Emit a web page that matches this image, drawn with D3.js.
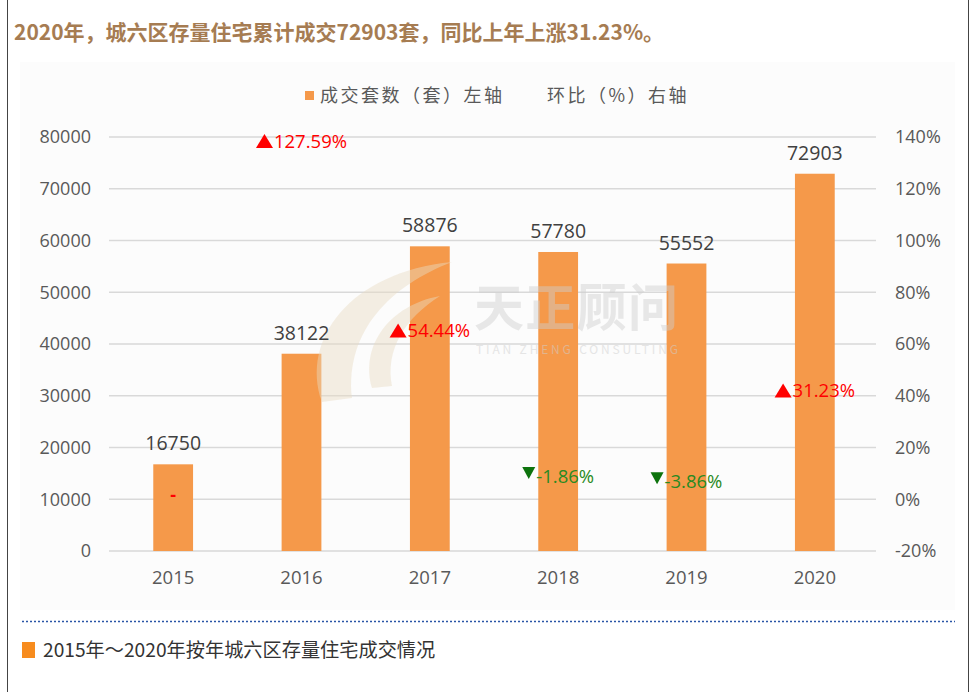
<!DOCTYPE html>
<html><head><meta charset="utf-8">
<script src="https://cdn.jsdelivr.net/npm/d3@7/dist/d3.min.js"></script>
<style>
html,body{margin:0;padding:0;background:#fff;}
svg{display:block;font-family:"Noto Sans CJK SC","Open Sans","DejaVu Sans",sans-serif;}
</style></head>
<body>
<svg id="c" width="973" height="692"></svg>
<script>
const years = ["2015","2016","2017","2018","2019","2020"];
const deals = [16750, 38122, 58876, 57780, 55552, 72903];
const ratios = [null, 127.59, 54.44, -1.86, -3.86, 31.23];
const leftTicks = [0,10000,20000,30000,40000,50000,60000,70000,80000];
const rightTicks = [-20,0,20,40,60,80,100,120,140];
const titleText = "2020年，城六区存量住宅累计成交72903套，同比上年上涨31.23%。";
const legendLabels = ["成交套数（套）左轴", "环比（%）右轴"];
const captionText = "2015年～2020年按年城六区存量住宅成交情况";

const svg = d3.select("#c");
const barColor = "#F5994A";
const textGray = "#595959";
const numFont = "'Open Sans',sans-serif";

// frame lines
svg.append("line").attr("x1",7.5).attr("x2",7.5).attr("y1",0).attr("y2",692).attr("stroke","#444").attr("stroke-width",1);
svg.append("line").attr("x1",968.5).attr("x2",968.5).attr("y1",0).attr("y2",692).attr("stroke","#444").attr("stroke-width",1);

// chart background
svg.append("rect").attr("x",20).attr("y",62).attr("width",935).attr("height",548).attr("fill","#fcfcfc");

// title
svg.append("text").attr("x",14).attr("y",40).attr("font-size",21).attr("font-weight","bold")
  .attr("fill","#A67C52").text(titleText);

// scales
const x = d3.scaleBand().domain(years).range([109,879]).paddingInner(0.69).paddingOuter(0.345);
const yL = d3.scaleLinear().domain([0,80000]).range([551,137]);
const yR = d3.scaleLinear().domain([-20,140]).range([551,137]);

// gridlines
svg.append("g").selectAll("line").data(leftTicks).join("line")
  .attr("x1",109).attr("x2",876).attr("y1",d=>yL(d)).attr("y2",d=>yL(d))
  .attr("stroke","#d9d9d9").attr("stroke-width",1.5);

// left axis labels
svg.append("g").selectAll("text").data(leftTicks).join("text")
  .attr("x",91).attr("y",d=>yL(d)).attr("dy","0.35em").attr("text-anchor","end")
  .attr("font-size",18).attr("fill",textGray).attr("font-family",numFont).text(d=>d);

// right axis labels
svg.append("g").selectAll("text").data(rightTicks).join("text")
  .attr("x",895).attr("y",d=>yR(d)).attr("dy","0.35em").attr("text-anchor","start")
  .attr("font-size",18).attr("fill",textGray).attr("font-family",numFont).text(d=>d+"%");

// x labels
svg.append("g").selectAll("text").data(years).join("text")
  .attr("x",d=>x(d)+x.bandwidth()/2).attr("y",578).attr("dy","0.35em").attr("text-anchor","middle")
  .attr("font-size",18.5).attr("fill",textGray).attr("font-family",numFont).text(d=>d);

// bars
svg.append("g").selectAll("rect").data(deals).join("rect")
  .attr("x",(d,i)=>x(years[i])).attr("width",x.bandwidth())
  .attr("y",d=>yL(d)).attr("height",d=>yL(0)-yL(d)).attr("fill",barColor);

// watermark (semi-transparent, over the bars)
const wm = svg.append("g");
wm.append("path").attr("d","M322,402 C300,340 350,272 452,262 C392,285 345,330 352,398 Z")
  .attr("fill","#e8dcc4").attr("opacity",0.45);
wm.append("path").attr("d","M372,388 C360,345 390,305 440,296 C405,318 385,350 392,386 Z")
  .attr("fill","#e8dcc4").attr("opacity",0.45);
wm.append("text").attr("x",474).attr("y",326).attr("font-size",50).attr("fill","#cfcfcf").attr("opacity",0.45)
  .attr("textLength",204).attr("font-weight","bold").text("天正顾问");
wm.append("text").attr("x",476).attr("y",354).attr("font-size",12).attr("fill","#cfcfcf").attr("opacity",0.5)
  .attr("textLength",202).text("TIAN ZHENG CONSULTING");

// bar value labels
svg.append("g").selectAll("text").data(deals).join("text")
  .attr("x",(d,i)=>x(years[i])+x.bandwidth()/2).attr("y",d=>yL(d)-14).attr("text-anchor","middle")
  .attr("font-size",19.5).attr("fill","#404040").attr("font-family",numFont).text(d=>d);

// ratio labels
const rg = svg.append("g").attr("font-family",numFont);
ratios.forEach((v,i)=>{
  const cx = x(years[i]) + x.bandwidth()/2;
  if (v === null) {
    rg.append("text").attr("x",cx).attr("y",yR(0)-5).attr("dy","0.35em").attr("text-anchor","middle")
      .attr("font-size",18).attr("font-weight","bold").attr("fill","#ff0000").text("-");
    return;
  }
  const up = v >= 0;
  const base = yR(v) - 21;
  const g = rg.append("g");
  const t = g.append("text").attr("y",base).attr("font-size",18.5)
    .attr("fill", up ? "#ff0000" : "#2a8a22").text(v.toFixed(2)+"%");
  const tw = t.node().getComputedTextLength();
  const triW = up ? 17 : 13;
  const gap = 1;
  const total = triW + gap + tw;
  const x0 = cx - total/2;
  if (up) {
    g.append("path").attr("d",`M${x0},${base}L${x0+triW},${base}L${x0+triW/2},${base-14}Z`).attr("fill","#ff0000");
  } else {
    g.append("path").attr("d",`M${x0},${base-16}L${x0+triW},${base-16}L${x0+triW/2},${base-4}Z`).attr("fill","#0d730d");
  }
  t.attr("x", x0 + triW + gap);
});

// legend
const lg = svg.append("g");
lg.append("rect").attr("x",305).attr("y",91).attr("width",9).attr("height",9).attr("fill",barColor);
lg.append("text").attr("x",320).attr("y",96).attr("dy","0.35em").attr("font-size",18)
  .attr("letter-spacing",2.5).attr("fill",textGray).text(legendLabels[0]);
lg.append("text").attr("x",547).attr("y",96).attr("dy","0.35em").attr("font-size",18)
  .attr("letter-spacing",2.5).attr("fill",textGray).text(legendLabels[1]);

// dotted separator
svg.append("line").attr("x1",22).attr("x2",955).attr("y1",621.5).attr("y2",621.5)
  .attr("stroke","#2a55a6").attr("stroke-width",1.5).attr("stroke-dasharray","2,2");

// caption
svg.append("rect").attr("x",22).attr("y",642).attr("width",13).attr("height",16).attr("fill","#F78C1E");
svg.append("text").attr("x",43).attr("y",650).attr("dy","0.35em").attr("font-size",19.2)
  .attr("fill","#333").text(captionText);
</script>
</body></html>
